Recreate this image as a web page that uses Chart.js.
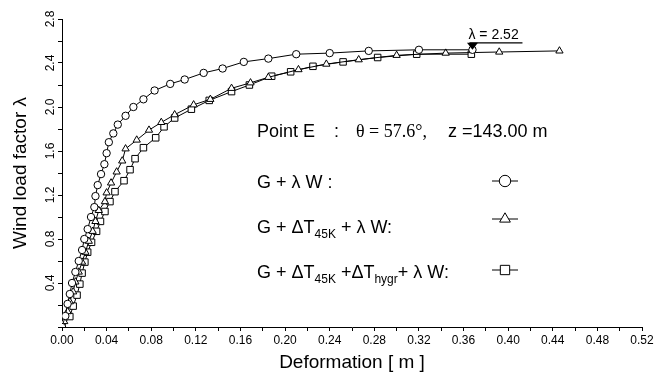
<!DOCTYPE html>
<html>
<head>
<meta charset="utf-8">
<script src="https://cdn.jsdelivr.net/npm/chart.js@4.4.1/dist/chart.umd.min.js"></script>
<style>
  html, body { margin: 0; padding: 0; background: #fff; }
  #wrap { width: 671px; height: 376px; }
</style>
</head>
<body>
<div id="wrap"><canvas id="grafico" width="671" height="376"></canvas></div>
<script>
// G + lambda W  (circulos)
const circleX = [0, 0.003, 0.005, 0.007, 0.009, 0.012, 0.015, 0.018, 0.020, 0.023, 0.026, 0.029, 0.030, 0.032, 0.035, 0.038, 0.040, 0.042, 0.046, 0.050, 0.057, 0.064, 0.073, 0.083, 0.097, 0.110, 0.127, 0.144, 0.163, 0.185, 0.210, 0.240, 0.275, 0.320, 0.368];
const circleY = [0, 0.10, 0.21, 0.30, 0.40, 0.50, 0.60, 0.70, 0.80, 0.89, 1.00, 1.09, 1.19, 1.29, 1.39, 1.48, 1.58, 1.68, 1.76, 1.84, 1.92, 2.00, 2.07, 2.15, 2.21, 2.25, 2.31, 2.35, 2.41, 2.44, 2.48, 2.49, 2.51, 2.52, 2.52];

// G + dT45K + lambda W  (triangulos)
const triX = [0, 0.002, 0.005, 0.007, 0.010, 0.012, 0.015, 0.018, 0.021, 0.024, 0.0275, 0.030, 0.033, 0.0385, 0.040, 0.044, 0.049, 0.054, 0.057, 0.067, 0.078, 0.089, 0.101, 0.118, 0.133, 0.152, 0.169, 0.185, 0.212, 0.237, 0.266, 0.300, 0.344, 0.392, 0.446];
const triY = [0, 0.05, 0.14, 0.23, 0.32, 0.41, 0.50, 0.59, 0.68, 0.78, 0.87, 0.96, 1.06, 1.14, 1.22, 1.31, 1.41, 1.51, 1.62, 1.70, 1.79, 1.86, 1.93, 2.02, 2.07, 2.17, 2.22, 2.27, 2.34, 2.39, 2.43, 2.47, 2.49, 2.50, 2.51];

// G + dT45K + dThygr + lambda W  (cuadrados)
const sqX = [0, 0.007, 0.010, 0.0135, 0.016, 0.018, 0.0205, 0.023, 0.0265, 0.031, 0.0345, 0.0385, 0.043, 0.0475, 0.0556, 0.061, 0.0655, 0.073, 0.084, 0.0915, 0.101, 0.116, 0.132, 0.152, 0.168, 0.188, 0.205, 0.225, 0.252, 0.283, 0.318, 0.367];
const sqY = [0, 0.095, 0.19, 0.29, 0.39, 0.49, 0.59, 0.68, 0.77, 0.87, 0.96, 1.05, 1.14, 1.23, 1.33, 1.43, 1.53, 1.63, 1.72, 1.82, 1.90, 1.98, 2.06, 2.14, 2.20, 2.28, 2.32, 2.37, 2.41, 2.45, 2.48, 2.48];

const xTickLabels = ['0.00', '0.04', '0.08', '0.12', '0.16', '0.20', '0.24', '0.28', '0.32', '0.36', '0.40', '0.44', '0.48', '0.52'];
const yTickLabels = ['0.4', '0.8', '1.2', '1.6', '2.0', '2.4', '2.8'];

const lambdaMax = { x: 0.368, y: 2.52, texto: 'λ = 2.52' };

const FUENTE = '"Liberation Sans", Arial, sans-serif';

function puntos(xs, ys) {
    return xs.map((x, i) => ({ x: x, y: ys[i] }));
}

function serie(xs, ys, estilo, radio) {
    return {
        data: puntos(xs, ys),
        borderColor: '#000',
        borderWidth: 1,
        backgroundColor: '#fff',
        pointStyle: estilo,
        pointRadius: radio,
        pointBorderWidth: 1,
        pointBorderColor: '#000',
        pointBackgroundColor: '#fff',
        showLine: true,
        tension: 0
    };
}

// marca de lambda maximo con texto subrayado
const marcaLambda = {
    id: 'marcaLambda',
    afterDatasetsDraw(chart) {
        const ctx = chart.ctx;
        const px = chart.scales.x.getPixelForValue(lambdaMax.x);
        const py = chart.scales.y.getPixelForValue(lambdaMax.y);
        ctx.save();
        ctx.fillStyle = '#000';
        ctx.beginPath();
        ctx.moveTo(px - 5.5, py - 7);
        ctx.lineTo(px + 5.5, py - 7);
        ctx.lineTo(px, py);
        ctx.closePath();
        ctx.fill();
        ctx.font = '14px ' + FUENTE;
        ctx.textBaseline = 'alphabetic';
        ctx.fillText(lambdaMax.texto, px - 4, py - 11);
        ctx.lineWidth = 1.2;
        ctx.beginPath();
        ctx.moveTo(px - 3, py - 7);
        ctx.lineTo(px + 50, py - 7);
        ctx.stroke();
        ctx.restore();
    }
};

// texto y leyenda dentro del grafico
const leyenda = {
    id: 'leyenda',
    afterDraw(chart) {
        const ctx = chart.ctx;
        ctx.save();
        ctx.fillStyle = '#000';
        ctx.textBaseline = 'alphabetic';
        ctx.font = '18px ' + FUENTE;
        ctx.fillText('Point E', 257, 137);
        ctx.fillText(':', 334, 137);
        ctx.fillText('z =143.00 m', 448, 137);
        ctx.font = '18px "Liberation Serif", "Times New Roman", serif';
        ctx.fillText('θ = 57.6°,', 356, 137);

        const filas = [
            { y: 188, ys: 181, partes: [['G + λ W :', false]] },
            { y: 233, ys: 219, partes: [['G + ΔT', false], ['45K', true], [' + λ W:', false]] },
            { y: 278, ys: 270, partes: [['G + ΔT', false], ['45K', true], [' +ΔT', false], ['hygr', true], ['+ λ W:', false]] }
        ];
        filas.forEach((f, i) => {
            let x = 257;
            f.partes.forEach(([t, sub]) => {
                ctx.font = (sub ? '12px ' : '18px ') + FUENTE;
                ctx.fillText(t, x, f.y + (sub ? 5 : 0));
                x += ctx.measureText(t).width;
            });
            const ds = chart.data.datasets[i];
            ctx.strokeStyle = '#000';
            ctx.lineWidth = 1;
            ctx.beginPath();
            ctx.moveTo(492, f.ys);
            ctx.lineTo(518, f.ys);
            ctx.stroke();
            ctx.fillStyle = '#fff';
            Chart.helpers.drawPoint(ctx, { pointStyle: ds.pointStyle, radius: ds.pointRadius + 2, rotation: 0, borderWidth: 1 }, 505, f.ys);
            ctx.fillStyle = '#000';
        });
        ctx.restore();
    }
};

const config = {
    type: 'scatter',
    data: {
        datasets: [
            serie(circleX, circleY, 'circle', 3.7),
            serie(triX, triY, 'triangle', 4.2),
            serie(sqX, sqY, 'rect', 4.6)
        ]
    },
    options: {
        responsive: false,
        animation: false,
        devicePixelRatio: 1,
        layout: { padding: { top: 19, right: 29, left: 0, bottom: 0 } },
        plugins: { legend: { display: false }, tooltip: { enabled: false } },
        scales: {
            x: {
                type: 'linear',
                min: 0,
                max: 0.52,
                afterFit: s => { s.height = 49; },
                ticks: {
                    stepSize: 0.02,
                    autoSkip: false,
                    maxRotation: 0,
                    padding: 2,
                    color: '#000',
                    font: { size: 12, family: FUENTE },
                    callback: v => { const s = v.toFixed(2); return xTickLabels.includes(s) ? s : ''; }
                },
                grid: { drawOnChartArea: false, drawTicks: true, tickLength: 4, color: '#000' },
                border: { display: true, color: '#000', width: 1 },
                title: {
                    display: true,
                    text: 'Deformation [ m ]',
                    color: '#000',
                    font: { size: 19, family: FUENTE },
                    padding: { top: 0, bottom: 2 }
                }
            },
            y: {
                type: 'linear',
                min: 0,
                max: 2.8,
                afterFit: s => { s.width = 62; },
                ticks: {
                    stepSize: 0.2,
                    autoSkip: false,
                    minRotation: 90,
                    maxRotation: 90,
                    crossAlign: 'center',
                    padding: -1,
                    color: '#000',
                    font: { size: 12, family: FUENTE },
                    callback: v => { const s = v.toFixed(1); return yTickLabels.includes(s) ? s : ''; }
                },
                grid: { drawOnChartArea: false, drawTicks: true, tickLength: 4, color: '#000' },
                border: { display: true, color: '#000', width: 1 },
                title: {
                    display: true,
                    text: 'Wind load factor λ',
                    color: '#000',
                    font: { size: 19, family: FUENTE },
                    padding: { top: 9, bottom: 0 }
                }
            }
        }
    },
    plugins: [marcaLambda, leyenda]
};

const ctx = document.getElementById('grafico').getContext('2d');
const myChart = new Chart(ctx, config);
</script>
</body>
</html>
